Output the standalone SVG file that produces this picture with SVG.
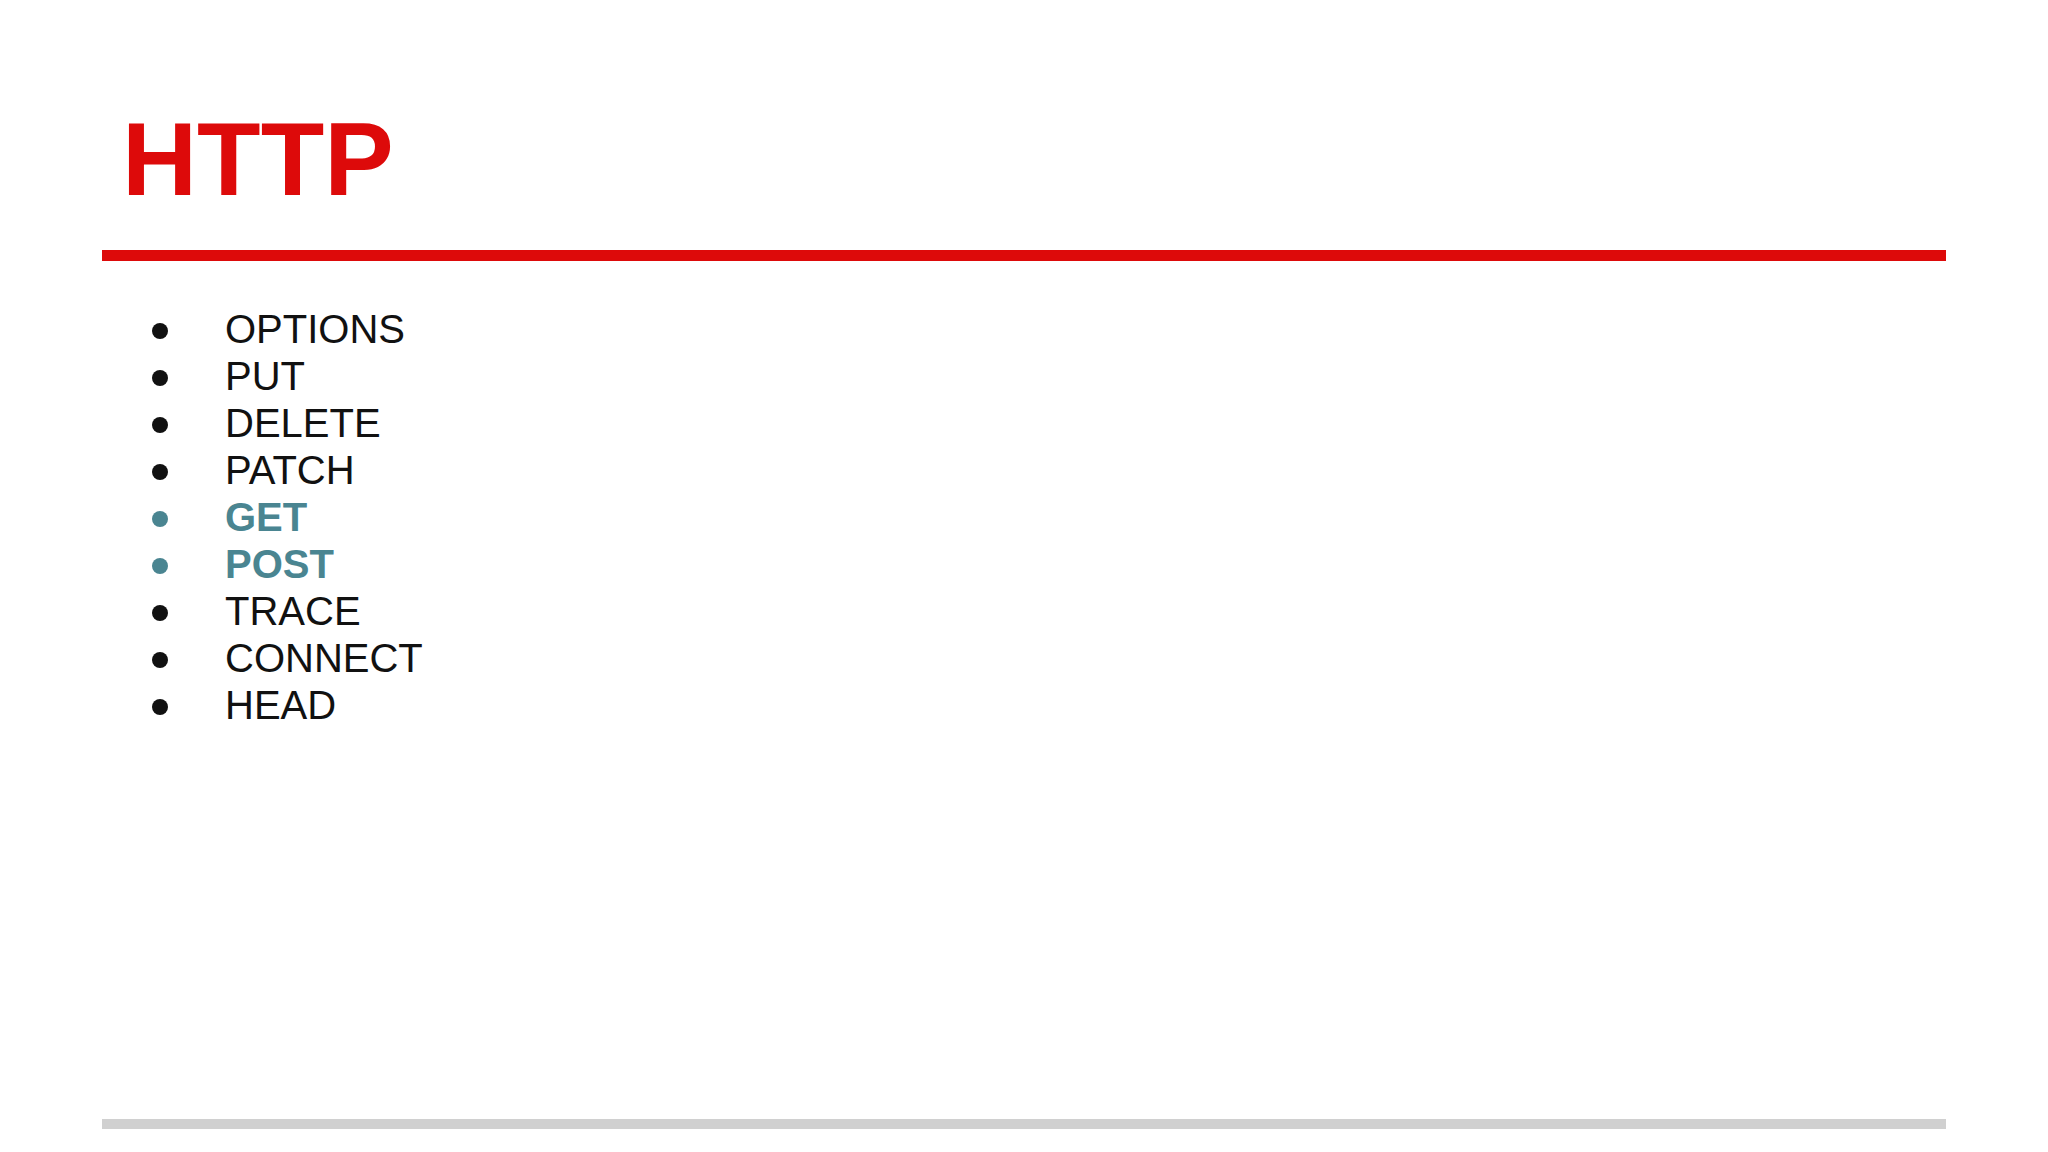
<svg xmlns="http://www.w3.org/2000/svg" width="2048" height="1152" viewBox="0 0 2048 1152">
<style>
.t{font-family:"Liberation Sans",Arial,sans-serif;font-size:40px;fill:#111}
.h{fill:#4a8591;font-weight:bold}
.b{fill:#111}
.bh{fill:#4a8591}
</style>
<rect width="2048" height="1152" fill="#fff"/>
<g id="title"><text x="122" y="195" font-family="Liberation Sans,Arial,sans-serif" font-weight="bold" font-size="104" fill="#dd0a0a">HTTP</text></g>
<rect x="102" y="250" width="1844" height="11" fill="#dd0a0a"/>
<g id="list">
<circle class="b" cx="160" cy="331" r="8"/><text class="t" x="225" y="343">OPTIONS</text>
<circle class="b" cx="160" cy="378" r="8"/><text class="t" x="225" y="390">PUT</text>
<circle class="b" cx="160" cy="425" r="8"/><text class="t" x="225" y="437">DELETE</text>
<circle class="b" cx="160" cy="472" r="8"/><text class="t" x="225" y="484">PATCH</text>
<circle class="bh" cx="160" cy="519" r="8"/><text class="t h" x="225" y="531">GET</text>
<circle class="bh" cx="160" cy="566" r="8"/><text class="t h" x="225" y="578">POST</text>
<circle class="b" cx="160" cy="613" r="8"/><text class="t" x="225" y="625">TRACE</text>
<circle class="b" cx="160" cy="660" r="8"/><text class="t" x="225" y="672">CONNECT</text>
<circle class="b" cx="160" cy="707" r="8"/><text class="t" x="225" y="719">HEAD</text>
</g>
<rect x="102" y="1119" width="1844" height="10" fill="#d0d0d0"/>
</svg>
